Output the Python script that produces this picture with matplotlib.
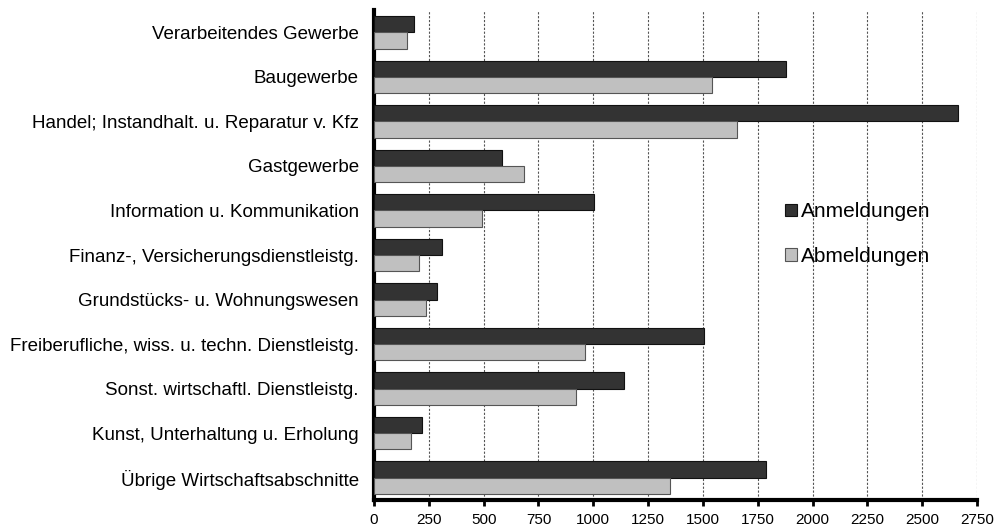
import numpy as np
import matplotlib
matplotlib.use('Agg')
import matplotlib.pyplot as plt

plt.rcParams['font.family'] = ['Liberation Sans', 'DejaVu Sans']

# Categories, top to bottom as in the chart
categories = [
    'Verarbeitendes Gewerbe',
    'Baugewerbe',
    'Handel; Instandhalt. u. Reparatur v. Kfz',
    'Gastgewerbe',
    'Information u. Kommunikation',
    'Finanz-, Versicherungsdienstleistg.',
    'Grundstücks- u. Wohnungswesen',
    'Freiberufliche, wiss. u. techn. Dienstleistg.',
    'Sonst. wirtschaftl. Dienstleistg.',
    'Kunst, Unterhaltung u. Erholung',
    'Übrige Wirtschaftsabschnitte',
]
anmeldungen = [182, 1878, 2663, 586, 1004, 310, 288, 1507, 1141, 220, 1788]
abmeldungen = [150, 1541, 1655, 685, 493, 206, 236, 964, 922, 168, 1350]
xticks = [0, 250, 500, 750, 1000, 1250, 1500, 1750, 2000, 2250, 2500, 2750]

fig = plt.figure(figsize=(9.95, 5.26), dpi=100)
ax = fig.add_axes([374 / 995, 1 - 500 / 526, (977 - 374) / 995, (500 - 10) / 526])

y = np.arange(len(categories))
h = 0.366
ax.barh(y - h / 2, anmeldungen, height=h, color='#333333', edgecolor='#111111',
        linewidth=0.8, label='Anmeldungen', zorder=3)
ax.barh(y + h / 2, abmeldungen, height=h, color='#c0c0c0', edgecolor='#555555',
        linewidth=0.8, label='Abmeldungen', zorder=3)

ax.set_ylim(len(categories) - 0.5, -0.5)
ax.set_xlim(0, 2750)
ax.set_yticks(y)
ax.set_yticklabels(categories, fontsize=13.5)
ax.tick_params(axis='y', length=0, pad=11)
ax.set_xticks(xticks)
ax.set_xticklabels([str(t) for t in xticks], fontsize=11)
ax.tick_params(axis='x', direction='out', length=4, width=2, pad=5)

ax.xaxis.grid(True, color='#555555', linestyle=(0, (2, 1.5)), linewidth=0.8, zorder=0)
ax.set_axisbelow(True)
ax.spines['top'].set_visible(False)
ax.spines['right'].set_visible(False)
ax.spines['left'].set_linewidth(3)
ax.spines['bottom'].set_linewidth(3)

leg = ax.legend(loc='upper left', bbox_to_anchor=(0.651, 0.646), frameon=False,
                fontsize=15, handlelength=0.55, handleheight=0.55,
                handletextpad=0.2, labelspacing=1.23)

fig.savefig('out.png', dpi=100)
